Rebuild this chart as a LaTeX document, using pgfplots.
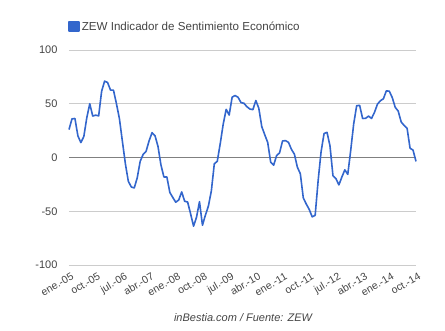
\documentclass[border=0pt]{standalone}
\usepackage{pgfplots}
\pgfplotsset{compat=1.18}
\usepackage{fontspec}
\setmainfont{Liberation Sans}
\definecolor{zewblue}{HTML}{3366CC}
\definecolor{tickgray}{HTML}{444444}
\begin{document}
\begin{tikzpicture}
\path[use as bounding box] (0pt,0pt) rectangle (445pt,330pt);
\begin{axis}[
  at={(69pt,65pt)}, anchor=south west,
  scale only axis, width=347pt, height=215pt,
  xmin=0, xmax=117, ymin=-100, ymax=100,
  axis line style={draw=none},
  ytick={-100,-50,0,50,100},
  xtick={0,9,...,117},
  xticklabels={ene.-05,oct.-05,jul.-06,abr.-07,ene.-08,oct.-08,jul.-09,abr.-10,ene.-11,oct.-11,jul.-12,abr.-13,ene.-14,oct.-14},
  xticklabel style={rotate=30, anchor=north east, font=\fontsize{10.5}{12}\selectfont, text=tickgray, inner sep=1pt, yshift=-6pt, xshift=-1pt},
  yticklabel style={font=\fontsize{11}{13}\selectfont, text=tickgray, xshift=-8pt},
  /pgf/number format/assume math mode=true,
  major tick length=0pt,
  clip=false,
  legend style={at={(0,1)}, anchor=south west, yshift=14pt, xshift=-4pt, draw=none, fill=none, font=\fontsize{11.6}{13}\selectfont, text=tickgray},
  legend cell align=left,
]
\draw[black!20, line width=0.9pt] (axis cs:0,100) -- (axis cs:117,100);
\draw[black!20, line width=0.9pt] (axis cs:0,50) -- (axis cs:117,50);
\draw[black!20, line width=0.9pt] (axis cs:0,-50) -- (axis cs:117,-50);
\draw[black!20, line width=0.9pt] (axis cs:0,-100) -- (axis cs:117,-100);
\draw[black!50, line width=1.8pt] (axis cs:0,0) -- (axis cs:117,0);
\addplot[zewblue, line width=1.6pt, line join=round, legend image code/.code={\fill[zewblue] (0pt,-4.5pt) rectangle (10pt,4.5pt);}] coordinates {
(0,26.0)(1,35.9)(2,36.3)(3,20.1)(4,13.9)(5,19.5)(6,37.0)(7,50.0)(8,38.6)(9,39.4)(10,38.7)(11,61.6)
(12,71.0)(13,69.8)(14,62.7)(15,62.6)(16,50.0)(17,36.1)(18,15.1)(19,-5.6)(20,-22.1)(21,-27.4)(22,-28.3)(23,-19.0)
(24,-3.6)(25,2.9)(26,5.8)(27,15.5)(28,23.1)(29,20.3)(30,10.4)(31,-6.9)(32,-18.1)(33,-18.1)(34,-32.5)(35,-37.2)
(36,-41.6)(37,-39.5)(38,-32.0)(39,-40.7)(40,-41.4)(41,-52.4)(42,-63.9)(43,-55.5)(44,-41.1)(45,-63.0)(46,-53.5)(47,-45.2)
(48,-31.0)(49,-5.8)(50,-3.5)(51,13.0)(52,31.1)(53,44.8)(54,39.5)(55,56.1)(56,57.7)(57,56.0)(58,51.1)(59,50.4)
(60,47.2)(61,45.1)(62,44.5)(63,53.0)(64,45.8)(65,28.7)(66,21.2)(67,14.0)(68,-4.3)(69,-7.2)(70,1.8)(71,4.3)
(72,15.4)(73,15.7)(74,14.1)(75,7.6)(76,3.1)(77,-9.0)(78,-15.1)(79,-37.6)(80,-43.3)(81,-48.3)(82,-55.2)(83,-53.8)
(84,-21.6)(85,5.4)(86,22.3)(87,23.4)(88,10.8)(89,-16.9)(90,-19.6)(91,-25.5)(92,-18.2)(93,-11.5)(94,-15.7)(95,6.9)
(96,31.5)(97,48.2)(98,48.5)(99,36.3)(100,36.4)(101,38.5)(102,36.3)(103,42.0)(104,49.6)(105,52.8)(106,54.6)(107,62.0)
(108,61.7)(109,55.7)(110,46.6)(111,43.2)(112,33.1)(113,29.8)(114,27.1)(115,8.6)(116,6.9)(117,-3.6)
};
\addlegendentry{ZEW Indicador de Sentimiento Económico}
\end{axis}
\node[font=\fontsize{11}{13}\selectfont\itshape, text=tickgray] at (243pt,12pt) {inBestia.com / Fuente: ZEW};
\end{tikzpicture}
\end{document}
